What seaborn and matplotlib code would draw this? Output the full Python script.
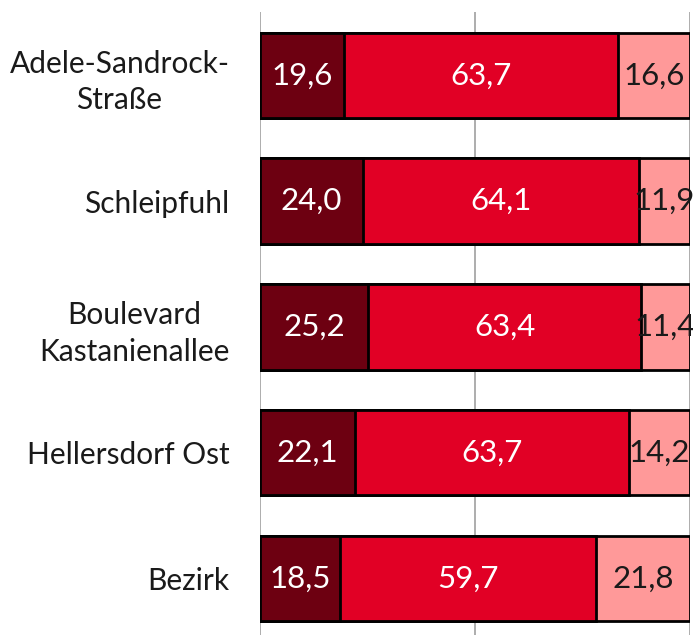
import pandas as pd
import numpy as np
import matplotlib.pyplot as plt
import seaborn as sns

gebiete = ['Adele-Sandrock-\nStraße', 'Schleipfuhl', 'Boulevard\nKastanienallee',
           'Hellersdorf Ost', 'Bezirk']
anteil_1 = [19.6, 24.0, 25.2, 22.1, 18.5]
anteil_2 = [63.7, 64.1, 63.4, 63.7, 59.7]
anteil_3 = [16.6, 11.9, 11.4, 14.2, 21.8]

farben = ['#6d0011', '#e10025', '#ff9999']
textfarben = ['white', 'white', '#1a1a1a']

df = pd.DataFrame({'gebiet': gebiete, 'a1': anteil_1, 'a2': anteil_2, 'a3': anteil_3})
df['c1'] = df.a1
df['c2'] = df.a1 + df.a2
df['c3'] = df.a1 + df.a2 + df.a3

sns.set_style('white')
plt.rcParams['font.family'] = ['Lato', 'DejaVu Sans']

fig = plt.figure(figsize=(6.93, 6.35), dpi=100)
ax = fig.add_axes([260/693, 0, 430/693, 623/635])

for x in [0, 50, 100]:
    ax.axvline(x, color='#a0a0a0', lw=1.2, zorder=0)

# draw cumulative bars longest first so they look stacked
for col, farbe in zip(['c3', 'c2', 'c1'], farben[::-1]):
    sns.barplot(data=df, x=col, y='gebiet', color=farbe, width=0.68,
                edgecolor='black', linewidth=2, saturation=1, ax=ax, zorder=2)

starts = [np.zeros(len(df)), df.c1.values, df.c2.values]
werte = [df.a1.values, df.a2.values, df.a3.values]
for s, w, tc in zip(starts, werte, textfarben):
    for i in range(len(df)):
        ax.text(s[i] + w[i] / 2, i, f'{w[i]:.1f}'.replace('.', ','),
                ha='center', va='center', color=tc, fontsize=22.5, zorder=5,
                clip_on=False)

ax.set_xlim(0, 100)
ax.set_ylim(4.45, -0.505)
ax.set_xlabel('')
ax.set_ylabel('')
ax.set_xticks([])
ax.tick_params(axis='y', length=0, pad=22, labelsize=21.5, labelcolor='#1a1a1a')
for lab in ax.get_yticklabels():
    lab.set_multialignment('center')
    lab.set_linespacing(1.35)
sns.despine(ax=ax, left=True, bottom=True)

plt.savefig('out.png', dpi=100)
